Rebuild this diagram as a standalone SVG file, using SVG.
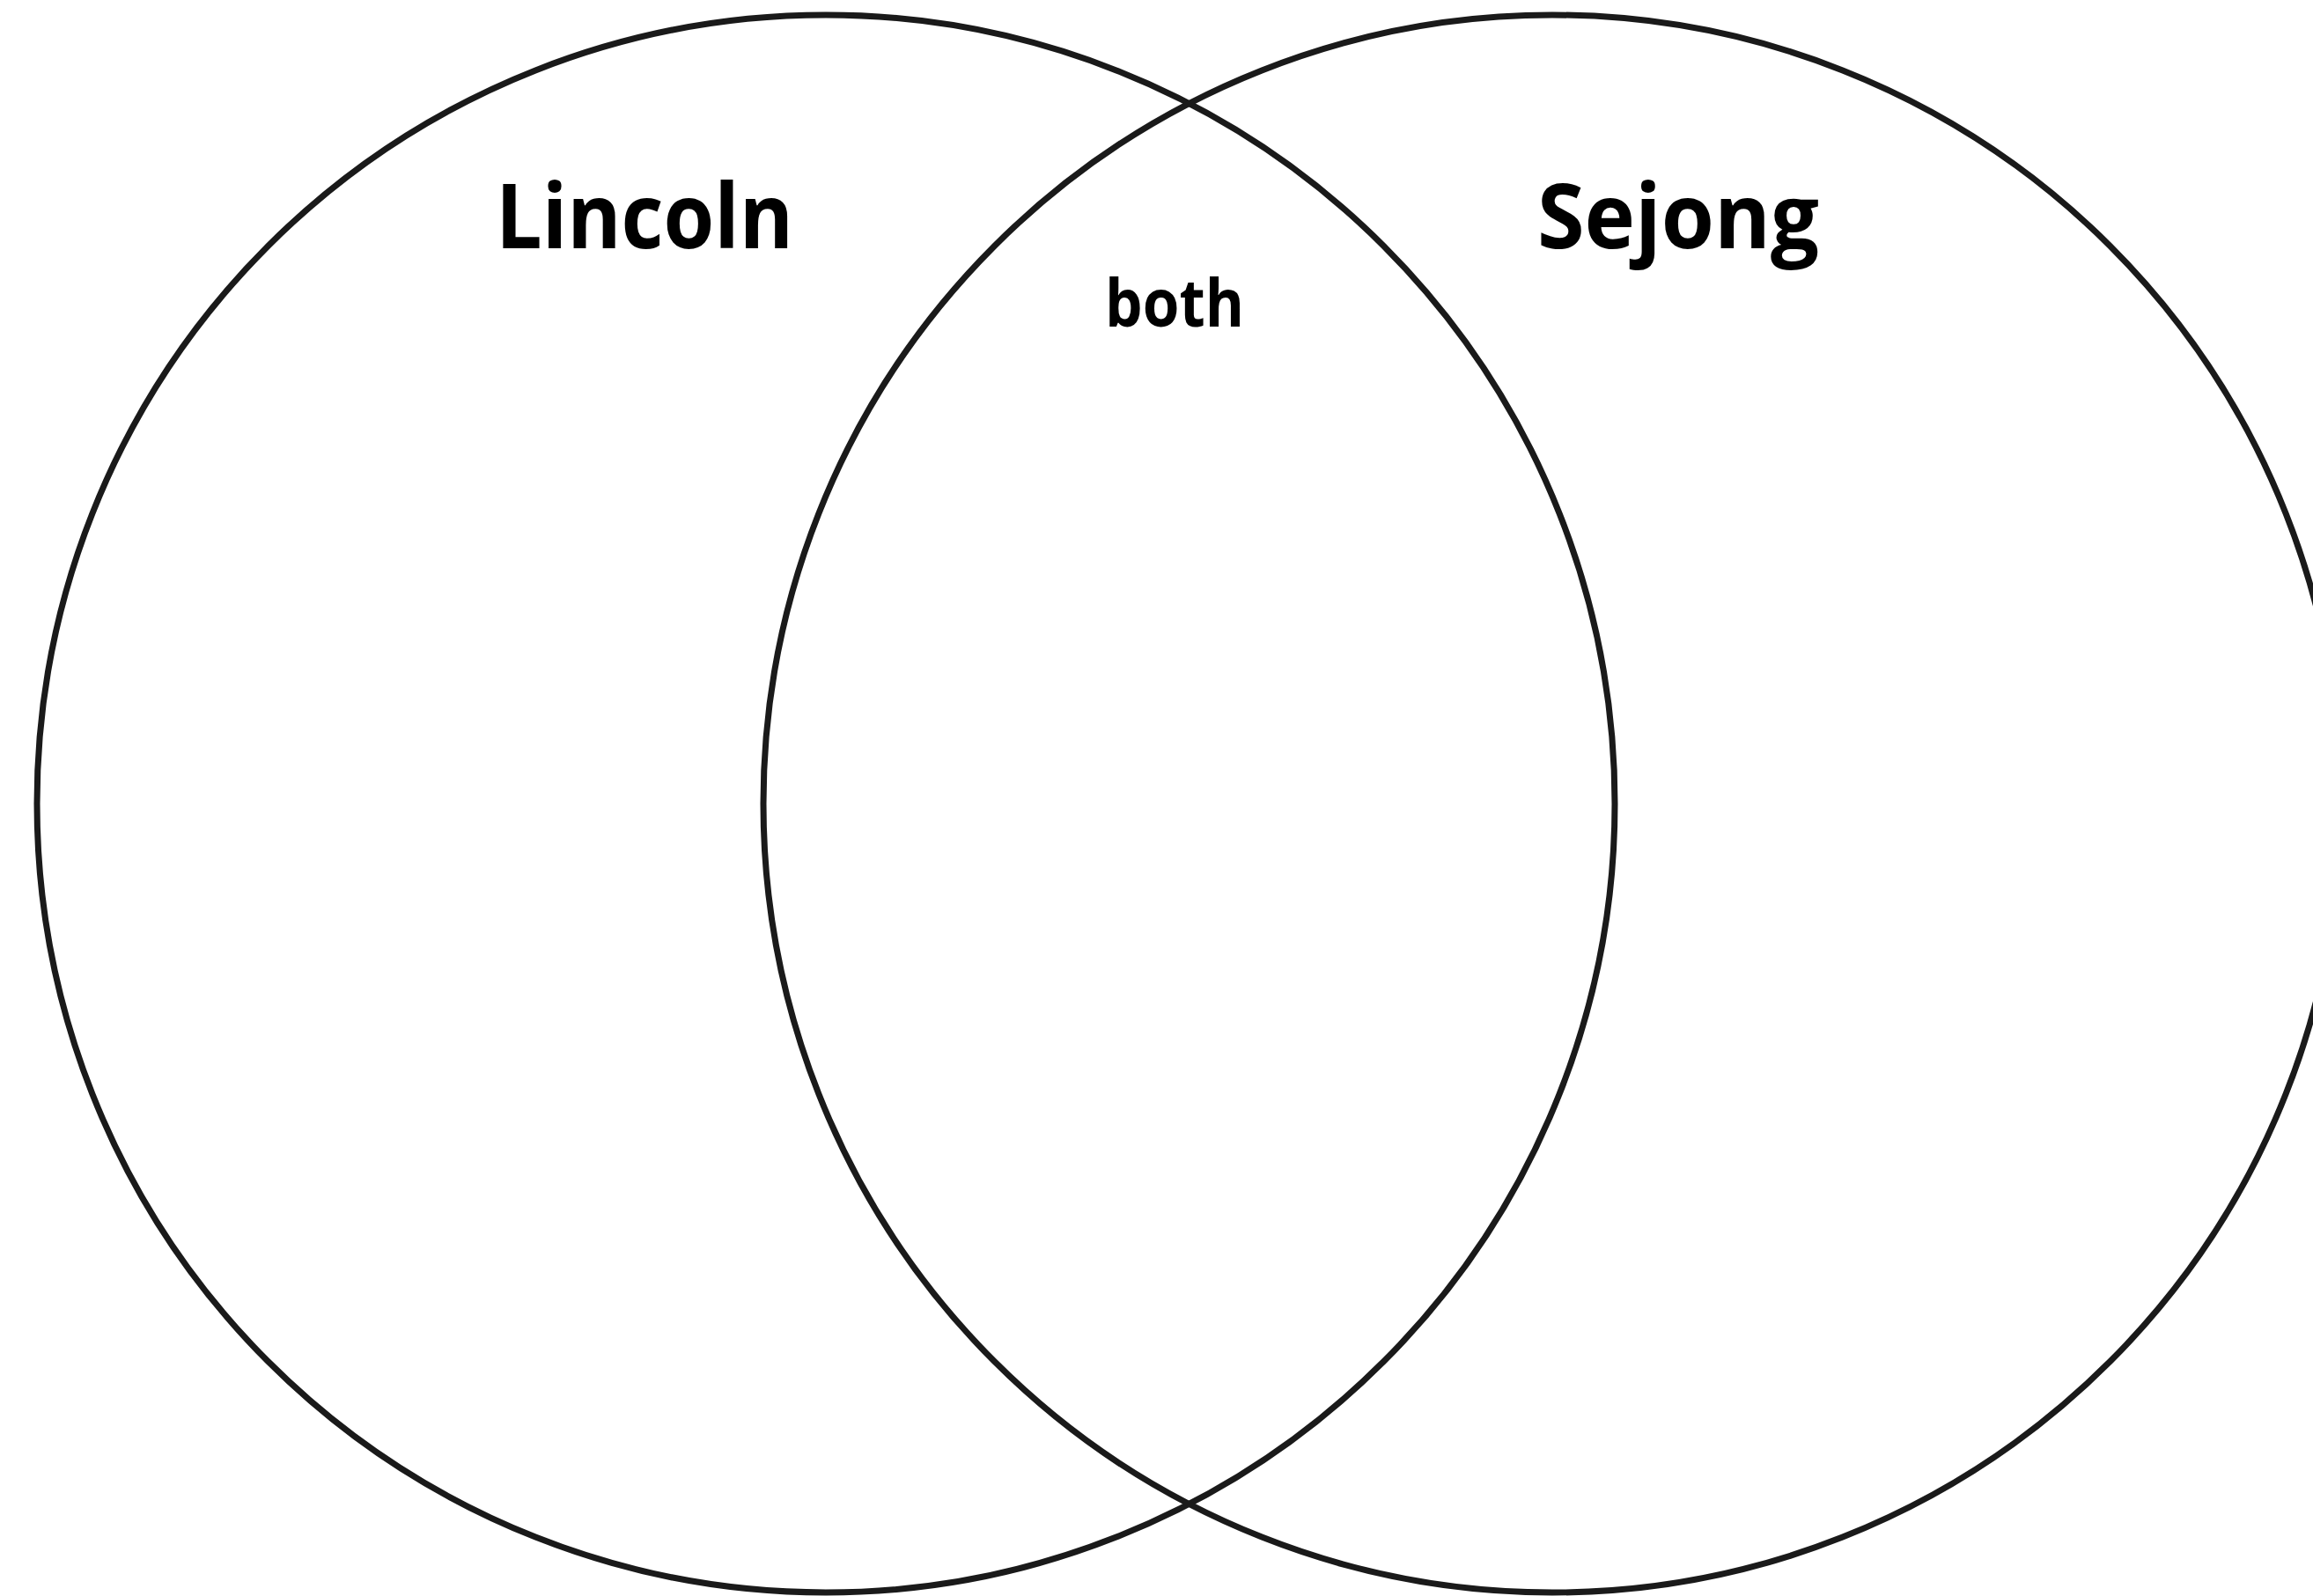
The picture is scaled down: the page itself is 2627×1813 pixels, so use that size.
<svg xmlns="http://www.w3.org/2000/svg" width="2627" height="1813" viewBox="0 0 2627 1813">
<style>
.c{fill:none;stroke:#1a1a1a;stroke-width:7}
.t{font-family:"Open Sans","Noto Sans","DejaVu Sans",sans-serif;font-weight:bold;fill:#000}
</style>
<rect width="2627" height="1813" fill="#fff"/>
<g id="lincoln">
<circle class="c" cx="938" cy="913" r="896"/>
<text class="t" x="563" y="282" font-size="102" textLength="338" lengthAdjust="spacingAndGlyphs">Lincoln</text>
</g>
<g id="sejong">
<circle class="c" cx="1763" cy="913" r="896"/>
<text class="t" x="1746" y="282" font-size="102" textLength="320" lengthAdjust="spacingAndGlyphs">Sejong</text>
</g>
<g id="both">
<text class="t" x="1255" y="371" font-size="76" textLength="158" lengthAdjust="spacingAndGlyphs">both</text>
</g>
<g id="connectors"></g>
</svg>
